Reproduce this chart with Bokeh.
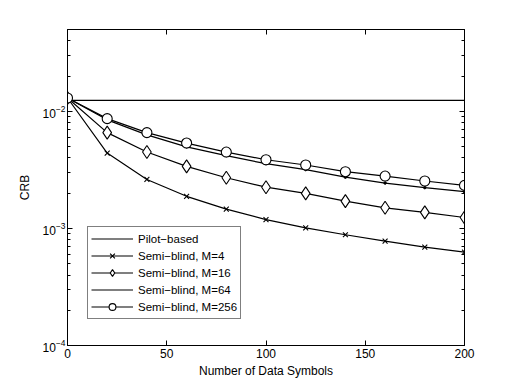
from bokeh.plotting import figure
from bokeh.models import (Range1d, FixedTicker, LogAxis, LinearAxis, Legend, LegendItem,
                          CustomJSTickFormatter)
from bokeh.embed import file_html
from bokeh.resources import INLINE

# ---- data ----
symbols = [0, 20, 40, 60, 80, 100, 120, 140, 160, 180, 200]
pilot_x = [0, 200]
pilot = [0.0124, 0.0124]
semi_m4 = [0.0130, 0.00440, 0.00262, 0.00188, 0.00146, 0.00119, 0.00101, 0.000883, 0.000778, 0.000692, 0.000627]
semi_m16 = [0.0130, 0.00658, 0.00449, 0.00339, 0.00271, 0.00225, 0.00199, 0.00171, 0.00150, 0.00137, 0.00124]
semi_m64 = [0.0130, 0.00846, 0.00630, 0.00497, 0.00418, 0.00357, 0.00318, 0.00274, 0.00244, 0.00223, 0.00206]
semi_m256 = [0.0130, 0.00866, 0.00658, 0.00536, 0.00449, 0.00386, 0.00348, 0.00305, 0.00280, 0.00254, 0.00233]
x_ticks = [0, 50, 100, 150, 200]
y_major = [1e-4, 1e-3, 1e-2]
y_minor = [m * 10.0 ** e for e in (-4, -3, -2) for m in range(2, 10) if m * 10.0 ** e < 0.05]

FONT = "Liberation Sans"
FS = "12px"

p = figure(frame_width=397, frame_height=316, output_backend="svg", toolbar_location=None,
           x_range=Range1d(0, 200), y_range=Range1d(1e-4, 0.05), y_axis_type="log",
           min_border_left=67, min_border_top=29, min_border_right=40, min_border_bottom=30,
           background_fill_color="white", border_fill_color="white")
p.grid.visible = False
p.outline_line_color = "black"
p.outline_line_width = 1

def style_axis(ax):
    ax.axis_line_color = "black"
    ax.major_tick_in = 5
    ax.major_tick_out = 0
    ax.minor_tick_in = 3
    ax.minor_tick_out = 0
    ax.major_tick_line_color = "black"
    ax.minor_tick_line_color = "black"
    ax.major_label_text_font = FONT
    ax.major_label_text_font_size = FS
    ax.major_label_text_color = "black"
    ax.axis_label_text_font = FONT
    ax.axis_label_text_font_size = FS
    ax.axis_label_text_font_style = "normal"
    ax.axis_label_text_color = "black"

xa = p.xaxis[0]
style_axis(xa)
xa.ticker = FixedTicker(ticks=x_ticks)
xa.axis_label = "Number of Data Symbols"
xa.major_label_standoff = 3
xa.axis_label_standoff = 3

ya = p.yaxis[0]
style_axis(ya)
ya.ticker = FixedTicker(ticks=y_major, minor_ticks=y_minor)
ya.axis_label = "CRB"
ya.major_label_standoff = 2
ya.axis_label_standoff = 8

empty = CustomJSTickFormatter(code="return ''")
top = LinearAxis(ticker=FixedTicker(ticks=x_ticks), formatter=empty)
style_axis(top)
top.major_label_standoff = 0
p.add_layout(top, "above")
right = LogAxis(ticker=FixedTicker(ticks=y_major, minor_ticks=y_minor), formatter=empty)
style_axis(right)
right.major_label_standoff = 0
p.add_layout(right, "right")

LW = 1.2
r_pilot = p.line(pilot_x, pilot, line_color="black", line_width=LW)

r4 = p.line(symbols, semi_m4, line_color="black", line_width=LW)
m4 = p.scatter(symbols, semi_m4, marker="x", size=7, line_color="black", line_width=1.1)

r16 = p.line(symbols, semi_m16, line_color="black", line_width=LW)
m16 = p.scatter(symbols, semi_m16, marker="diamond", size=13, line_color="black",
                fill_color="white", line_width=1.1)

r64 = p.line(symbols, semi_m64, line_color="black", line_width=LW)
m64 = p.scatter(symbols, semi_m64, marker="circle", size=2.5, line_color="black",
                fill_color="black")

r256 = p.line(symbols, semi_m256, line_color="black", line_width=LW)
m256 = p.scatter(symbols, semi_m256, marker="circle", size=10, line_color="black",
                 fill_color="white", line_width=1.1)

legend = Legend(items=[
    LegendItem(label="Pilot\u2212based", renderers=[r_pilot]),
    LegendItem(label="Semi\u2212blind, M=4", renderers=[r4, m4]),
    LegendItem(label="Semi\u2212blind, M=16", renderers=[r16, m16]),
    LegendItem(label="Semi\u2212blind, M=64", renderers=[r64]),
    LegendItem(label="Semi\u2212blind, M=256", renderers=[r256, m256]),
], location=(20, 26))
legend.label_text_font = FONT
legend.label_text_font_size = "11.5px"
legend.label_text_color = "black"
legend.glyph_width = 42
legend.glyph_height = 17
legend.label_height = 17
legend.label_standoff = 5
legend.spacing = 0
legend.padding = 3
legend.margin = 0
legend.border_line_color = "black"
legend.border_line_width = 1
legend.background_fill_color = "white"
legend.background_fill_alpha = 1
p.add_layout(legend, "center")

open("out.html", "w").write(file_html(p, INLINE))
